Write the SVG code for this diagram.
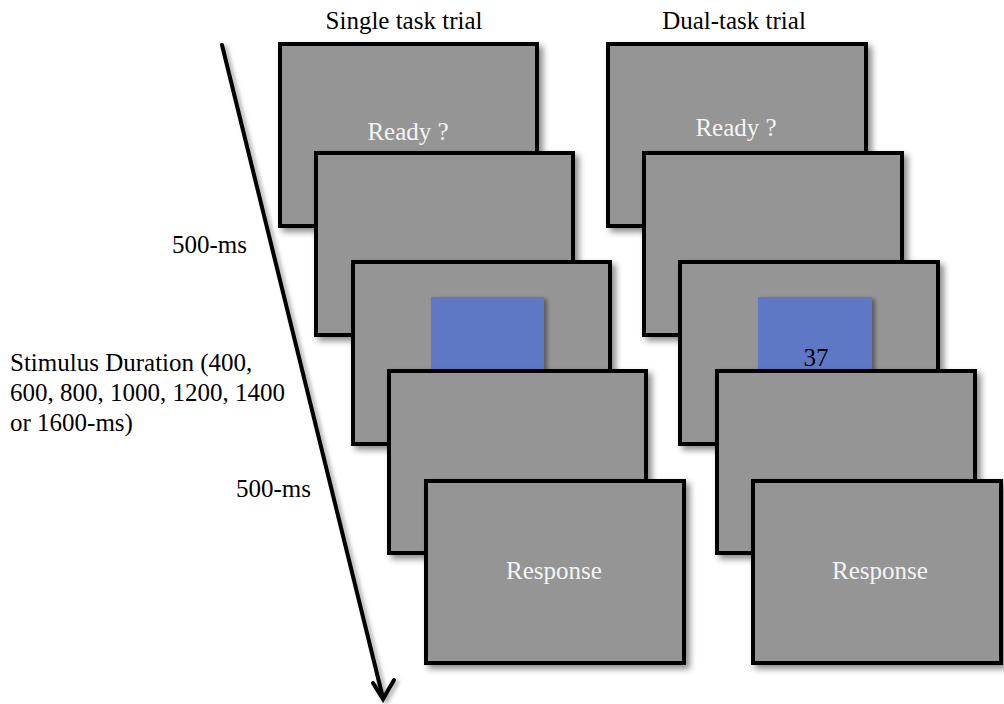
<svg xmlns="http://www.w3.org/2000/svg" width="1004" height="704" viewBox="0 0 1004 704">
<defs>
<style>
.scr{fill:#959595;stroke:#000;stroke-width:4;filter:url(#sh)}
.blue{fill:#5f78c6;filter:url(#sh2)}
.lbl{font-family:"Liberation Serif","DejaVu Serif",serif;font-size:25px;fill:#000}
.wt{font-family:"Liberation Serif","DejaVu Serif",serif;font-size:25px;fill:#f4f4f4;text-anchor:middle}
.hd{font-family:"Liberation Serif","DejaVu Serif",serif;font-size:25px;fill:#000;text-anchor:middle}
</style>
<filter id="sh" x="-10%" y="-10%" width="130%" height="130%"><feDropShadow dx="4" dy="4" stdDeviation="3" flood-color="#000" flood-opacity="0.45"/></filter>
<filter id="sh2" x="-10%" y="-10%" width="130%" height="130%"><feDropShadow dx="3" dy="2" stdDeviation="2" flood-color="#000" flood-opacity="0.4"/></filter>
<filter id="sh3" x="-20%" y="-5%" width="140%" height="110%"><feDropShadow dx="3" dy="2" stdDeviation="2" flood-color="#000" flood-opacity="0.35"/></filter>
</defs>
<text class="hd" x="404" y="29">Single task trial</text>
<text class="hd" x="734" y="29">Dual-task trial</text>
<g id="connectors" filter="url(#sh3)" stroke="#000" stroke-width="4" fill="none" stroke-linecap="round">
<line x1="222" y1="45" x2="383" y2="698"/>
<polyline points="373,683 383,699 394,680"/>
</g>
<g id="single-1"><rect class="scr" x="280" y="44" width="257" height="182"/><text class="wt" x="408" y="140">Ready ?</text></g>
<g id="single-2"><rect class="scr" x="316" y="153" width="257" height="182"/></g>
<g id="single-3"><rect class="scr" x="353" y="262" width="257" height="182"/><rect class="blue" x="431" y="297" width="113" height="73"/></g>
<g id="single-4"><rect class="scr" x="389" y="371" width="257" height="182"/></g>
<g id="single-5"><rect class="scr" x="426" y="481" width="258" height="182"/><text class="wt" x="554" y="579">Response</text></g>
<g id="dual-1"><rect class="scr" x="608" y="44" width="258" height="182"/><text class="wt" x="736" y="136">Ready ?</text></g>
<g id="dual-2"><rect class="scr" x="644" y="153" width="258" height="182"/></g>
<g id="dual-3"><rect class="scr" x="680" y="262" width="258" height="182"/><rect class="blue" x="758" y="297" width="114" height="73"/><text class="hd" x="816" y="366">37</text></g>
<g id="dual-4"><rect class="scr" x="717" y="371" width="258" height="182"/></g>
<g id="dual-5"><rect class="scr" x="753" y="481" width="248" height="182"/><text class="wt" x="880" y="579">Response</text></g>
<text class="lbl" x="172" y="253">500-ms</text>
<text class="lbl" x="236" y="497">500-ms</text>
<text class="lbl" x="10" y="371">Stimulus Duration (400,</text>
<text class="lbl" x="10" y="401">600, 800, 1000, 1200, 1400</text>
<text class="lbl" x="10" y="431">or 1600-ms)</text>
</svg>
